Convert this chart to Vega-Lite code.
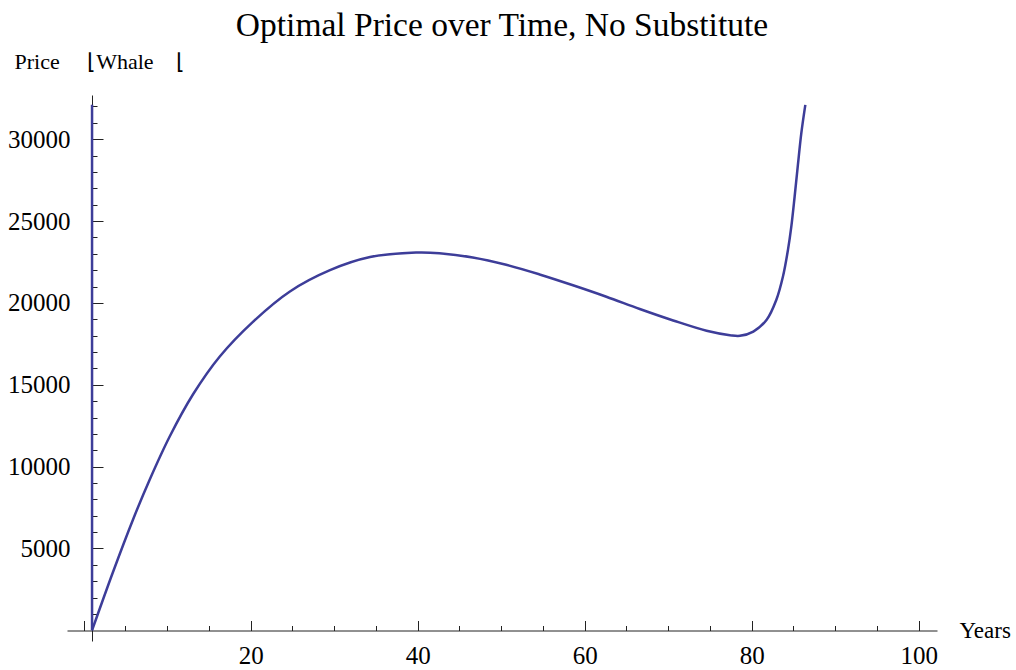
{
  "$schema": "https://vega.github.io/schema/vega-lite/v6.json",
  "autosize": "none",
  "width": 870,
  "height": 546,
  "padding": {"left": 67, "top": 95, "right": 79, "bottom": 29},
  "background": "white",
  "config": {
    "view": {"stroke": null},
    "font": "Liberation Serif",
    "axis": {"grid": false, "labelFont": "Liberation Serif", "titleFont": "Liberation Serif", "labelColor": "black", "titleColor": "black", "domainColor": "#222222", "tickColor": "#222222", "titleFontWeight": "normal"}
  },
  "title": {
    "text": "Optimal Price over Time, No Substitute",
    "font": "Liberation Serif",
    "fontSize": 33.5,
    "fontWeight": "normal",
    "color": "black",
    "anchor": "middle",
    "frame": "group",
    "baseline": "alphabetic",
    "offset": 17,
    "dy": 36
  },
  "datasets": {
    "curve": [
      {"t": 1, "p": 0},
      {"t": 3.5, "p": 3550},
      {"t": 5.9, "p": 6760},
      {"t": 7.9, "p": 9200},
      {"t": 10.3, "p": 11840},
      {"t": 13.1, "p": 14420},
      {"t": 16.3, "p": 16730},
      {"t": 20.3, "p": 18860},
      {"t": 24.7, "p": 20700},
      {"t": 29.5, "p": 22000},
      {"t": 34.3, "p": 22800},
      {"t": 39.8, "p": 23080},
      {"t": 42.6, "p": 23040},
      {"t": 46.6, "p": 22780},
      {"t": 50.6, "p": 22330},
      {"t": 54.6, "p": 21740},
      {"t": 58.6, "p": 21080},
      {"t": 62.6, "p": 20380},
      {"t": 66.6, "p": 19630},
      {"t": 70.6, "p": 18930},
      {"t": 74.6, "p": 18300},
      {"t": 77.4, "p": 18030},
      {"t": 78.6, "p": 17990},
      {"t": 80.2, "p": 18250},
      {"t": 81.8, "p": 18970},
      {"t": 82.96, "p": 20190},
      {"t": 83.75, "p": 21610},
      {"t": 84.35, "p": 23240},
      {"t": 84.75, "p": 24660},
      {"t": 85.15, "p": 26500},
      {"t": 85.54, "p": 28430},
      {"t": 85.95, "p": 30370},
      {"t": 86.43, "p": 32100}
    ],
    "jump": [{"t": 1, "lo": 0, "hi": 32100}]
  },
  "layer": [
    {
      "data": {"name": "curve"},
      "mark": {"type": "line", "color": "#3d3d99", "strokeWidth": 2.5, "interpolate": "catmull-rom", "clip": false},
      "encoding": {
        "x": {
          "field": "t", "type": "quantitative",
          "scale": {"domain": [-2, 102.2], "nice": false, "zero": false},
          "axis": {
            "orient": "bottom", "offset": -10.5, "title": "Years",
            "titleFontSize": 23, "titleAnchor": "start", "titleAlign": "left", "titleBaseline": "alphabetic",
            "titleX": 892, "titleY": 6.5,
            "values": [0, 20, 40, 60, 80, 100], "tickSize": -10, "labelPadding": 23,
            "labelFontSize": 25, "labelExpr": "datum.value == 0 ? '' : datum.label",
            "format": "d", "labelFlush": false, "labelOverlap": false
          }
        },
        "y": {
          "field": "p", "type": "quantitative",
          "scale": {"domain": [-650, 32700], "nice": false, "zero": false},
          "axis": {
            "orient": "left", "offset": -25, "title": "Price\u00a0\u00a0\u00a0\u00a0\u00a0⌊Whale\u00a0\u00a0\u00a0\u00a0⌊",
            "titleFontSize": 22, "titleAngle": 0, "titleAlign": "left", "titleBaseline": "alphabetic",
            "titleAnchor": "start", "titleX": -78, "titleY": -27,
            "values": [5000, 10000, 15000, 20000, 25000, 30000], "tickSize": -11, "labelPadding": 33,
            "labelFontSize": 25, "format": "d", "labelFlush": false, "labelOverlap": false
          }
        }
      }
    },
    {
      "data": {"name": "jump"},
      "mark": {"type": "rule", "color": "#3d3d99", "strokeWidth": 2.5},
      "encoding": {
        "x": {
          "field": "t", "type": "quantitative",
          "scale": {"domain": [-2, 102.2], "nice": false, "zero": false},
          "axis": {
            "orient": "bottom", "offset": -10.5, "title": null, "domain": false, "labels": false,
            "values": [0, 5, 10, 15, 20, 25, 30, 35, 40, 45, 50, 55, 60, 65, 70, 75, 80, 85, 90, 95, 100],
            "tickSize": -5
          }
        },
        "y": {
          "field": "lo", "type": "quantitative",
          "scale": {"domain": [-650, 32700], "nice": false, "zero": false},
          "axis": {
            "orient": "left", "offset": -25, "title": null, "domain": false, "labels": false,
            "values": [1000, 2000, 3000, 4000, 5000, 6000, 7000, 8000, 9000, 10000, 11000, 12000, 13000, 14000, 15000, 16000, 17000, 18000, 19000, 20000, 21000, 22000, 23000, 24000, 25000, 26000, 27000, 28000, 29000, 30000, 31000, 32000],
            "tickSize": -5
          }
        },
        "y2": {"field": "hi"}
      }
    }
  ],
  "resolve": {"scale": {"x": "independent", "y": "independent"}, "axis": {"x": "independent", "y": "independent"}}
}
